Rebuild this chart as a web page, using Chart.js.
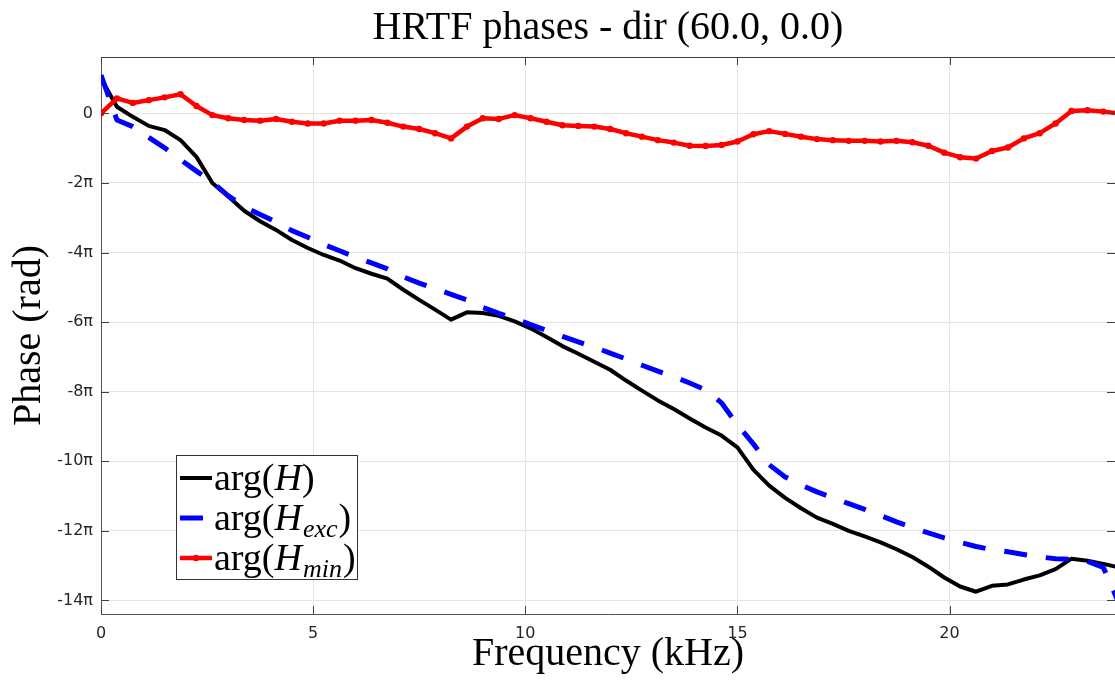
<!DOCTYPE html>
<html>
<head>
<meta charset="utf-8">
<script src="https://cdn.jsdelivr.net/npm/chart.js@4.4.1/dist/chart.umd.min.js"></script>
<style>
html, body { margin: 0; padding: 0; background: #fff; }
#wrap { width: 1115px; height: 682px; }
</style>
</head>
<body>
<div id="wrap"><canvas id="c"></canvas></div>
<script>
// frequency grid in kHz (375 Hz bins)
const freqs = [0, 0.375, 0.75, 1.125, 1.5, 1.875, 2.25, 2.625, 3, 3.375, 3.75, 4.125, 4.5, 4.875,
  5.25, 5.625, 6, 6.375, 6.75, 7.125, 7.5, 7.875, 8.25, 8.625, 9, 9.375, 9.75, 10.125, 10.5,
  10.875, 11.25, 11.625, 12, 12.375, 12.75, 13.125, 13.5, 13.875, 14.25, 14.625, 15, 15.375,
  15.75, 16.125, 16.5, 16.875, 17.25, 17.625, 18, 18.375, 18.75, 19.125, 19.5, 19.875, 20.25,
  20.625, 21, 21.375, 21.75, 22.125, 22.5, 22.875, 23.25, 23.625, 24];

// phases in units of pi
const phaseH = [1.0, 0.19, -0.10, -0.36, -0.48, -0.77, -1.25, -2.0, -2.39, -2.8,
  -3.1, -3.35, -3.64, -3.87, -4.07, -4.23, -4.45, -4.61, -4.75, -5.07,
  -5.36, -5.64, -5.93, -5.72, -5.74, -5.82, -5.98, -6.18, -6.43, -6.69,
  -6.91, -7.14, -7.37, -7.68, -7.97, -8.25, -8.5, -8.77, -9.03, -9.26,
  -9.6, -10.24, -10.7, -11.05, -11.35, -11.62, -11.8, -12.0, -12.16, -12.33,
  -12.53, -12.75, -13.03, -13.34, -13.6, -13.75, -13.58, -13.54, -13.4, -13.28,
  -13.1, -12.8, -12.86, -12.95, -13.05];

const phaseExc = [1.1, -0.19, -0.38, -0.69, -0.99, -1.33, -1.66, -1.98, -2.37, -2.68,
  -2.91, -3.12, -3.37, -3.56, -3.77, -3.95, -4.13, -4.30, -4.47, -4.70,
  -4.88, -5.04, -5.20, -5.36, -5.58, -5.75, -5.90, -6.07, -6.24, -6.41,
  -6.57, -6.72, -6.89, -7.06, -7.24, -7.41, -7.57, -7.75, -7.95, -8.32,
  -8.95, -9.5, -10.1, -10.45, -10.68, -10.88, -11.05, -11.22, -11.38, -11.56,
  -11.74, -11.9, -12.06, -12.2, -12.33, -12.45, -12.54, -12.6, -12.68, -12.75,
  -12.8, -12.82, -12.88, -13.05, -14.1];

const phaseMin = [0, 0.43, 0.30, 0.38, 0.46, 0.55, 0.21, -0.05, -0.14, -0.19,
  -0.21, -0.16, -0.24, -0.29, -0.29, -0.21, -0.21, -0.19, -0.27, -0.38,
  -0.45, -0.57, -0.72, -0.38, -0.14, -0.16, -0.05, -0.14, -0.24, -0.34,
  -0.36, -0.38, -0.45, -0.57, -0.67, -0.77, -0.84, -0.93, -0.94, -0.91,
  -0.81, -0.60, -0.51, -0.59, -0.67, -0.74, -0.77, -0.79, -0.79, -0.81,
  -0.79, -0.83, -0.93, -1.13, -1.26, -1.30, -1.08, -0.98, -0.72, -0.57,
  -0.29, 0.07, 0.09, 0.05, 0.0];

const xTicks = [0, 5, 10, 15, 20];
const yTicks = [-14, -12, -10, -8, -6, -4, -2, 0];
const chartTitle = 'HRTF phases - dir (60.0, 0.0)';

const serif = '"Liberation Serif", "Times New Roman", serif';
const sans = '"DejaVu Sans", sans-serif';

const toPoints = vals => vals.map((v, i) => ({ x: freqs[i], y: v }));

// title centred over the axes, not the whole canvas
const axesTitle = {
  id: 'axesTitle',
  afterDraw(chart) {
    const { ctx, chartArea: a } = chart;
    ctx.save();
    ctx.fillStyle = '#000';
    ctx.font = '40px ' + serif;
    ctx.textAlign = 'center';
    ctx.textBaseline = 'middle';
    ctx.fillText(chartTitle, (a.left + a.right) / 2, 28);
    ctx.restore();
  }
};

// inward tick marks + top box line, like the original axes
const axisFrame = {
  id: 'axisFrame',
  afterDatasetsDraw(chart) {
    const { ctx, chartArea: a, scales: { x, y } } = chart;
    ctx.save();
    ctx.strokeStyle = '#404040';
    ctx.lineWidth = 1;
    ctx.beginPath();
    ctx.moveTo(a.left, a.top + 0.5);
    ctx.lineTo(a.right, a.top + 0.5);
    xTicks.forEach(v => {
      const px = Math.round(x.getPixelForValue(v)) + 0.5;
      ctx.moveTo(px, a.bottom); ctx.lineTo(px, a.bottom - 8);
      ctx.moveTo(px, a.top); ctx.lineTo(px, a.top + 8);
    });
    yTicks.forEach(v => {
      const py = Math.round(y.getPixelForValue(v)) + 0.5;
      ctx.moveTo(a.left, py); ctx.lineTo(a.left + 8, py);
      ctx.moveTo(a.right, py); ctx.lineTo(a.right - 8, py);
    });
    ctx.stroke();
    ctx.restore();
  }
};

// legend with math-style labels (italic H, subscripts)
const mathLegend = {
  id: 'mathLegend',
  afterDraw(chart) {
    const { ctx, chartArea: a } = chart;
    const bx = a.left + 75, by = a.top + 398, bw = 181, bh = 124;
    ctx.save();
    ctx.fillStyle = '#fff';
    ctx.fillRect(bx, by, bw, bh);
    ctx.strokeStyle = '#333';
    ctx.lineWidth = 1;
    ctx.strokeRect(bx + 0.5, by + 0.5, bw, bh);

    chart.data.datasets.forEach((ds, i) => {
      const cy = by + 23 + i * 40;
      ctx.save();
      ctx.strokeStyle = ds.borderColor;
      ctx.lineWidth = ds.borderWidth;
      ctx.setLineDash(ds.borderDash || []);
      ctx.beginPath();
      ctx.moveTo(bx + 4, cy);
      ctx.lineTo(bx + 36, cy);
      ctx.stroke();
      if (ds.pointRadius) {
        ctx.fillStyle = ds.pointBackgroundColor;
        ctx.beginPath();
        ctx.arc(bx + 20, cy, ds.pointRadius, 0, Math.PI * 2);
        ctx.fill();
      }
      ctx.restore();

      const m = ds.label.match(/^(\w+\()(\w)(?:_(\w+))?(\))$/);
      const base = cy + 12;
      let tx = bx + 38;
      ctx.fillStyle = '#000';
      ctx.textBaseline = 'alphabetic';
      ctx.font = '38px ' + serif;
      ctx.fillText(m[1], tx, base);
      tx += ctx.measureText(m[1]).width;
      ctx.font = 'italic 38px ' + serif;
      ctx.fillText(m[2], tx, base);
      tx += ctx.measureText(m[2]).width;
      if (m[3]) {
        ctx.font = 'italic 26px ' + serif;
        ctx.fillText(m[3], tx + 1, base + 7);
        tx += ctx.measureText(m[3]).width + 2;
      }
      ctx.font = '38px ' + serif;
      ctx.fillText(m[4], tx, base);
    });
    ctx.restore();
  }
};

new Chart(document.getElementById('c'), {
  type: 'line',
  data: {
    datasets: [
      {
        label: 'arg(H)',
        data: toPoints(phaseH),
        borderColor: '#000000',
        borderWidth: 4,
        pointRadius: 0,
        order: 3
      },
      {
        label: 'arg(H_exc)',
        data: toPoints(phaseExc),
        borderColor: '#0000ff',
        borderWidth: 5,
        borderDash: [23, 19],
        pointRadius: 0,
        order: 2
      },
      {
        label: 'arg(H_min)',
        data: toPoints(phaseMin),
        borderColor: '#ff0000',
        borderWidth: 4.5,
        pointRadius: 3.2,
        pointBackgroundColor: '#ff0000',
        pointBorderColor: '#ff0000',
        pointBorderWidth: 0,
        order: 1
      }
    ]
  },
  options: {
    responsive: true,
    maintainAspectRatio: false,
    animation: false,
    layout: { autoPadding: false, padding: { top: 57, left: 0, right: 0, bottom: 0 } },
    elements: { line: { tension: 0, borderJoinStyle: 'round', borderCapStyle: 'butt' } },
    plugins: {
      legend: { display: false },
      tooltip: { enabled: false },
      title: { display: false }
    },
    scales: {
      x: {
        type: 'linear',
        min: 0,
        max: 23.9,
        afterBuildTicks: s => { s.ticks = xTicks.map(v => ({ value: v })); },
        afterFit: s => { s.height = 68; s.paddingLeft = 0; s.paddingRight = 0; },
        grid: { color: '#e4e4e4', drawTicks: false },
        border: { color: '#555', width: 1 },
        ticks: { color: '#262626', font: { family: sans, size: 16 }, padding: 10, maxRotation: 0 },
        title: {
          display: true,
          text: 'Frequency (kHz)',
          color: '#000',
          font: { family: serif, size: 40, lineHeight: 1.2 },
          padding: { top: 0, bottom: 4 }
        }
      },
      y: {
        type: 'linear',
        min: -14.39,
        max: 1.62,
        afterBuildTicks: s => { s.ticks = yTicks.map(v => ({ value: v })); },
        afterFit: s => { s.width = 101; s.paddingTop = 0; s.paddingBottom = 0; },
        grid: { color: '#e4e4e4', drawTicks: false },
        border: { color: '#555', width: 1 },
        ticks: {
          color: '#262626',
          font: { family: sans, size: 16 },
          padding: 8,
          callback: v => (v === 0 ? '0' : v + 'π')
        },
        title: {
          display: true,
          text: 'Phase (rad)',
          color: '#000',
          font: { family: serif, size: 40, lineHeight: 1.2 },
          padding: { top: 5, bottom: 0 }
        }
      }
    }
  },
  plugins: [axesTitle, axisFrame, mathLegend]
});
</script>
</body>
</html>
